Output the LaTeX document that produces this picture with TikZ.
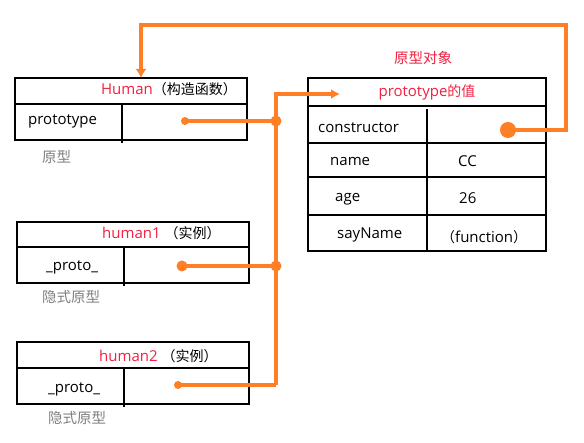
\documentclass[tikz,border=0pt]{standalone}
\usepackage{fontspec}
\setmainfont{Open Sans}
\newfontfamily\cjk{Noto Sans CJK SC}
\usetikzlibrary{arrows.meta}
\definecolor{lineorange}{HTML}{FF7F27}
\definecolor{txtred}{HTML}{F02040}
\definecolor{txtgray}{HTML}{7F7F7F}
\tikzset{
  boxline/.style={draw=black, line width=1.3pt},
  link/.style={draw=lineorange, line width=3.2pt},
  blob/.style={fill=lineorange},
  lbl/.style={inner sep=0pt, font=\fontsize{15}{17}\selectfont},
  graylbl/.style={inner sep=0pt, font=\cjk\fontsize{14.5}{16}\selectfont, text=txtgray},
  redlbl/.style={inner sep=0pt, font=\fontsize{15}{17}\selectfont, text=txtred},
}
\newcommand{\zh}[1]{{\cjk\fontsize{14}{16}\selectfont #1}}
\begin{document}
\begin{tikzpicture}[x=1pt,y=-1pt]
\useasboundingbox (0,0) rectangle (584,443);
% Human box
\draw[boxline] (15,78) rectangle (247,140);
\draw[boxline] (15,104) -- (247,104);
\draw[boxline] (122,104) -- (122,143);
% human1 box
\draw[boxline] (17,222) rectangle (249,283);
\draw[boxline] (17,247) -- (249,247);
\draw[boxline] (124,247) -- (124,286);
% human2 box
\draw[boxline] (17,342) rectangle (249,404);
\draw[boxline] (17,368) -- (249,368);
\draw[boxline] (124,368) -- (124,407);
% prototype box
\draw[boxline] (308,78) rectangle (546,251);
\draw[boxline] (308,106) -- (546,106);
\draw[boxline] (309,143) -- (545,143);
\draw[boxline] (309,177) -- (545,177);
\draw[boxline] (309,215) -- (545,215);
\draw[boxline] (427,109) -- (427,251);

% texts
\node[lbl, anchor=east] (hhead) at (237,89) {\textcolor{txtred}{Human}\zh{（构造函数）}};
\node[lbl, anchor=west] (hproto) at (28,121) {prototype};
\node[graylbl, anchor=west] (hcap) at (42,157) {原型};
\node[lbl, anchor=west] (h1head) at (102,233) {\textcolor{txtred}{human1} \zh{（实例）}};
\node[lbl, anchor=west] (h1proto) at (46,267) {\_proto\_};
\node[graylbl, anchor=west] (h1cap) at (42,297) {隐式原型};
\node[lbl, anchor=west] (h2head) at (99,356) {\textcolor{txtred}{human2} \zh{（实例）}};
\node[lbl, anchor=west] (h2proto) at (48,389) {\_proto\_};
\node[graylbl, anchor=west] (h2cap) at (48,418) {隐式原型};
\node[redlbl, font=\cjk\fontsize{14.5}{16}\selectfont] (ptitle) at (423,58) {原型对象};
\node[redlbl] (phead) at (427,92) {prototype\zh{的值}};
\node[lbl, anchor=west] (pcons) at (318,128) {constructor};
\node[lbl, anchor=west] (pname) at (330,161) {name};
\node[lbl, anchor=west] (pnamev) at (458,161) {CC};
\node[lbl, anchor=west] (page) at (335,199) {age};
\node[lbl, anchor=west] (pagev) at (459,198) {26};
\node[lbl, anchor=west] (psay) at (337,235) {sayName};
\node[lbl, anchor=west] (psayv) at (441,237) {\zh{（}function\zh{）}};

% connection points
\coordinate (consdot) at (508,130);
\coordinate (c1) at (566,130);
\coordinate (c2) at (566,25);
\coordinate (c3) at (141,25);
\coordinate (humantop) at (141,78);
\coordinate (hdot) at (185,121);
\coordinate (j1) at (276,121);
\coordinate (jtop) at (276,94);
\coordinate (parrow) at (340,94);
\coordinate (h1dot) at (182,266);
\coordinate (j2) at (276,266);
\coordinate (h2dot) at (178,385);
\coordinate (j3) at (276,385);

% links
\draw[link, -{Latex[length=9pt,width=11pt]}] (consdot) -- (c1) -- (c2) -- (c3) -- (humantop);
\draw[link] (hdot) -- (j1);
\draw[link, -{Latex[length=9pt,width=10pt]}] (j3) -- (jtop) -- (parrow);
\draw[link] (h1dot) -- (j2);
\draw[link] (h2dot) -- (j3);
\fill[blob] (consdot) circle (8);
\fill[blob] (hdot) circle (4);
\fill[blob] (j1) circle (5.5);
\fill[blob] (h1dot) circle (5.5);
\fill[blob] (j2) circle (5.5);
\fill[blob] (h2dot) circle (4);
\end{tikzpicture}
\end{document}
